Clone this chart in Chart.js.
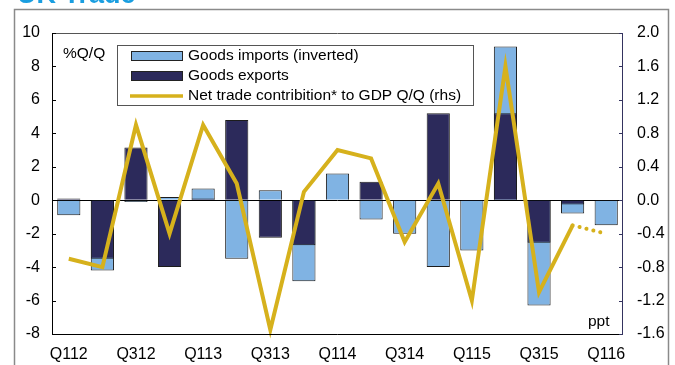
<!DOCTYPE html>
<html>
<head>
<meta charset="utf-8">
<script src="https://cdn.jsdelivr.net/npm/chart.js@4"></script>
<style>
  body { margin: 0; background: #fff; }
  canvas { display: block; }
</style>
</head>
<body>
<canvas id="tradeChart" width="675" height="365"></canvas>
<script>
// Data
const quarters = ['Q112', 'Q212', 'Q312', 'Q412', 'Q113', 'Q213', 'Q313', 'Q413', 'Q114',
  'Q214', 'Q314', 'Q414', 'Q115', 'Q215', 'Q315', 'Q415', 'Q116'];
const importsInverted = [-0.9, -4.2, -0.1, 0.2, 0.7, -3.5, 0.6, -4.85, 1.6, -1.15, -2.0, -4.0, -3.0, 9.2, -6.3, -0.8, -1.5];
const exports = [0.1, -3.5, 3.15, -4.0, 0.1, 4.8, -2.25, -2.7, 0, 1.1, 0, 5.2, -0.05, 5.2, -2.55, -0.25, 0];
const netTrade = [-0.7, -0.8, 0.9, -0.4, 0.9, 0.2, -1.55, 0.1, 0.6, 0.5, -0.5, 0.2, -1.2, 1.6, -1.1, -0.3, -0.4];

// Constants
const FONT = 'Arial, "Liberation Sans", sans-serif';
const LIGHT_BLUE = '#80b3e3';
const NAVY = '#2c2a5b';
const GOLD = '#d6b11c';
const AXIS_NAVY = '#34335f';

// Frame, title, legend and notes
const decorPlugin = {
  id: 'decor',
  beforeDraw(chart) {
    const { ctx } = chart;
    ctx.save();
    ctx.fillStyle = '#1a9ee0';
    ctx.font = `bold 27px ${FONT}`;
    ctx.textBaseline = 'alphabetic';
    ctx.fillText('UK Trade', 17, 3);
    ctx.strokeStyle = '#8a8a8a';
    ctx.lineWidth = 1.5;
    ctx.strokeRect(14.5, 9.5, 654, 400);
    ctx.restore();
  },
  afterDraw(chart) {
    const { ctx, chartArea: a, scales } = chart;
    ctx.save();

    // axes
    ctx.lineWidth = 1;
    ctx.strokeStyle = '#555';
    ctx.beginPath(); ctx.moveTo(a.left, a.top + 0.5); ctx.lineTo(a.right, a.top + 0.5); ctx.stroke();
    ctx.strokeStyle = '#000';
    ctx.beginPath();
    ctx.moveTo(a.left + 0.5, a.top); ctx.lineTo(a.left + 0.5, a.bottom + 0.5); ctx.lineTo(a.right, a.bottom + 0.5);
    ctx.stroke();
    ctx.strokeStyle = AXIS_NAVY;
    ctx.beginPath(); ctx.moveTo(a.right - 0.5, a.top); ctx.lineTo(a.right - 0.5, a.bottom + 0.5); ctx.stroke();

    // inward ticks
    ctx.strokeStyle = '#000';
    scales.y.ticks.forEach(t => {
      const y = Math.round(scales.y.getPixelForValue(t.value)) + 0.5;
      ctx.beginPath(); ctx.moveTo(a.left, y); ctx.lineTo(a.left + 4, y); ctx.stroke();
    });
    ctx.strokeStyle = AXIS_NAVY;
    scales.y2.ticks.forEach(t => {
      const y = Math.round(scales.y2.getPixelForValue(t.value)) + 0.5;
      ctx.beginPath(); ctx.moveTo(a.right - 4, y); ctx.lineTo(a.right, y); ctx.stroke();
    });

    // notes
    ctx.fillStyle = '#000';
    ctx.font = `15.5px ${FONT}`;
    ctx.textBaseline = 'middle';
    ctx.fillText('%Q/Q', 63, 54);
    ctx.fillText('ppt', 588, 322);

    // legend
    ctx.fillStyle = '#fff';
    ctx.fillRect(117.5, 45.5, 356, 60);
    ctx.strokeStyle = '#555';
    ctx.strokeRect(117.5, 45.5, 356, 60);
    const rows = chart.data.datasets;
    rows.forEach((ds, i) => {
      const y = 56 + i * 20;
      if (ds.type === 'line') {
        ctx.strokeStyle = ds.borderColor;
        ctx.lineWidth = 3.5;
        ctx.beginPath(); ctx.moveTo(130, y); ctx.lineTo(183, y); ctx.stroke();
      } else {
        ctx.fillStyle = ds.backgroundColor;
        ctx.fillRect(131, y - 4.5, 51, 9);
        ctx.strokeStyle = '#222';
        ctx.lineWidth = 1;
        ctx.strokeRect(131.5, y - 4.5, 51, 9);
      }
      ctx.fillStyle = '#000';
      ctx.fillText(ds.label, 188, y);
    });
    ctx.restore();
  }
};

new Chart(document.getElementById('tradeChart'), {
  type: 'bar',
  data: {
    labels: quarters,
    datasets: [
      {
        label: 'Goods imports (inverted)',
        data: importsInverted,
        backgroundColor: LIGHT_BLUE,
        borderColor: '#1c1c1c',
        borderWidth: 1,
        grouped: false,
        barPercentage: 0.69,
        categoryPercentage: 1,
        yAxisID: 'y',
        order: 2
      },
      {
        label: 'Goods exports',
        data: exports,
        backgroundColor: NAVY,
        borderColor: '#1c1c1c',
        borderWidth: 1,
        grouped: false,
        barPercentage: 0.69,
        categoryPercentage: 1,
        yAxisID: 'y',
        order: 1
      },
      {
        type: 'line',
        label: 'Net trade contribition* to GDP Q/Q (rhs)',
        data: netTrade,
        borderColor: GOLD,
        borderWidth: 4,
        pointRadius: 0,
        tension: 0,
        clip: false,
        yAxisID: 'y2',
        order: 0,
        segment: {
          borderDash: c => c.p1DataIndex === quarters.length - 1 ? [0.1, 7] : undefined,
          borderCapStyle: c => c.p1DataIndex === quarters.length - 1 ? 'round' : 'butt'
        }
      }
    ]
  },
  options: {
    responsive: false,
    animation: false,
    layout: { padding: { top: 33, left: 0, right: 0, bottom: 0 } },
    plugins: { legend: { display: false }, tooltip: { enabled: false } },
    scales: {
      x: {
        grid: { display: false },
        border: { display: false },
        ticks: {
          autoSkip: false,
          maxRotation: 0,
          padding: 3,
          color: '#000',
          font: { family: FONT, size: 16 },
          callback: (v, i) => i % 2 === 0 ? quarters[i] : ''
        },
        afterFit: s => { s.height = 31; }
      },
      y: {
        position: 'left',
        min: -8,
        max: 10,
        ticks: { stepSize: 2, padding: 12, color: '#000', font: { family: FONT, size: 16 } },
        grid: {
          drawTicks: false,
          color: c => c.tick && c.tick.value === 0 ? '#000' : 'transparent'
        },
        border: { display: false },
        afterFit: s => { s.width = 52; }
      },
      y2: {
        position: 'right',
        min: -1.6,
        max: 2.0,
        ticks: {
          stepSize: 0.4,
          padding: 14,
          color: '#000',
          font: { family: FONT, size: 16 },
          callback: v => v.toFixed(1)
        },
        grid: { display: false, drawTicks: false },
        border: { display: false },
        afterFit: s => { s.width = 52; }
      }
    }
  },
  plugins: [decorPlugin]
});
</script>
</body>
</html>
